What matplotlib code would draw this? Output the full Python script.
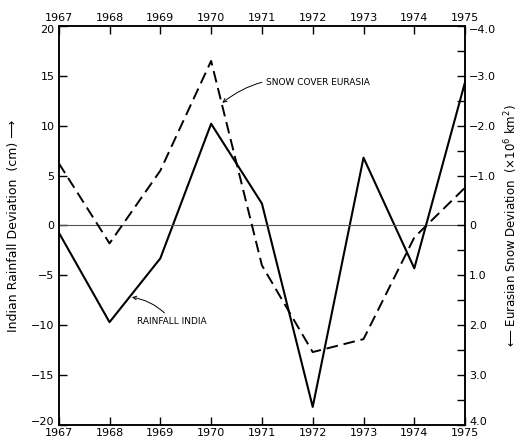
import numpy as np
import matplotlib.pyplot as plt
import matplotlib.transforms as mtransforms
from matplotlib.ticker import MultipleLocator, FuncFormatter

# data
years = [1967, 1968, 1969, 1970, 1971, 1972, 1973, 1974, 1975]
rain_india = [-0.7, -9.7, -3.3, 10.2, 2.2, -18.2, 6.8, -4.3, 14.4]      # cm
snow_eurasia = [-1.25, 0.36, -1.1, -3.3, 0.8, 2.54, 2.28, 0.24, -0.76]  # x10^6 km^2

plt.rcParams['font.family'] = ['DejaVu Sans']

fig = plt.figure(figsize=(5.22, 4.38), dpi=100)
ax = fig.add_axes([0.1125, 0.03, 0.7785, 0.9105])
ax2 = ax.twinx()

ax.plot(years, rain_india, color='black', lw=1.5)
ax.axhline(0, color='#555555', lw=0.8)
ax2.plot(years, snow_eurasia, color='black', lw=1.4, dashes=(6, 3))

ax.set_xlim(1967, 1975)
ax.set_ylim(-20, 20)
ax2.set_ylim(4, -4)

ax.xaxis.set_major_locator(MultipleLocator(1))
ax.yaxis.set_major_locator(MultipleLocator(5))
ax.yaxis.set_major_formatter(FuncFormatter(lambda v, p: '%d' % v if v >= 0 else '\u2212%d' % -v))
ax2.yaxis.set_major_locator(MultipleLocator(1))
ax2.yaxis.set_minor_locator(MultipleLocator(0.5))
ax2.yaxis.set_major_formatter(FuncFormatter(
    lambda v, p: '0' if abs(v) < 1e-9 else ('%.1f' % v if v > 0 else '\u2212%.1f' % -v)))

ax.tick_params(axis='x', top=True, labeltop=True, direction='in', length=6, width=1, labelsize=8, pad=2)
ax.tick_params(axis='y', direction='in', length=6, width=1, labelsize=8, pad=3)
ax2.tick_params(axis='y', which='both', direction='in', length=6, width=1, labelsize=8, pad=3)

for a in (ax, ax2):
    for s in a.spines.values():
        s.set_linewidth(1.1)

ax.set_ylabel('Indian Rainfall Deviation  (cm) \u27f6', fontsize=9, labelpad=8)
ax2.set_ylabel('\u27f5 Eurasian Snow Deviation  (\u00d710$^6$ km$^2$)', fontsize=8.5,
               rotation=90, labelpad=4)

ax.annotate('SNOW COVER EURASIA', xy=(1970.22, 12.3), xytext=(1971.08, 14.3),
            fontsize=6.5, va='center', ha='left',
            arrowprops=dict(arrowstyle='->', color='black', lw=0.7,
                            connectionstyle='arc3,rad=0.25', shrinkA=1, shrinkB=0))
ax.annotate('RAINFALL INDIA', xy=(1968.44, -7.2), xytext=(1968.54, -9.6),
            fontsize=6.5, va='center', ha='left',
            arrowprops=dict(arrowstyle='->', color='black', lw=0.7,
                            connectionstyle='arc3,rad=0.2', shrinkA=1, shrinkB=0))

# nudge the corner tick labels inward a little, as in the original
fig.canvas.draw()
up = mtransforms.ScaledTranslation(0, 4 / 100, fig.dpi_scale_trans)
down = mtransforms.ScaledTranslation(0, -3 / 100, fig.dpi_scale_trans)
for a in (ax, ax2):
    ticks = a.yaxis.get_major_ticks()
    locs = a.yaxis.get_majorticklocs()
    for t, v in zip(ticks, locs):
        lo, hi = sorted(a.get_ylim())
        bottom_val = a.get_ylim()[0]
        top_val = a.get_ylim()[1]
        if abs(v - bottom_val) < 1e-9:
            for lab in (t.label1, t.label2):
                lab.set_transform(lab.get_transform() + up)
        elif abs(v - top_val) < 1e-9:
            for lab in (t.label1, t.label2):
                lab.set_transform(lab.get_transform() + down)

fig.savefig('out.png', dpi=100)
